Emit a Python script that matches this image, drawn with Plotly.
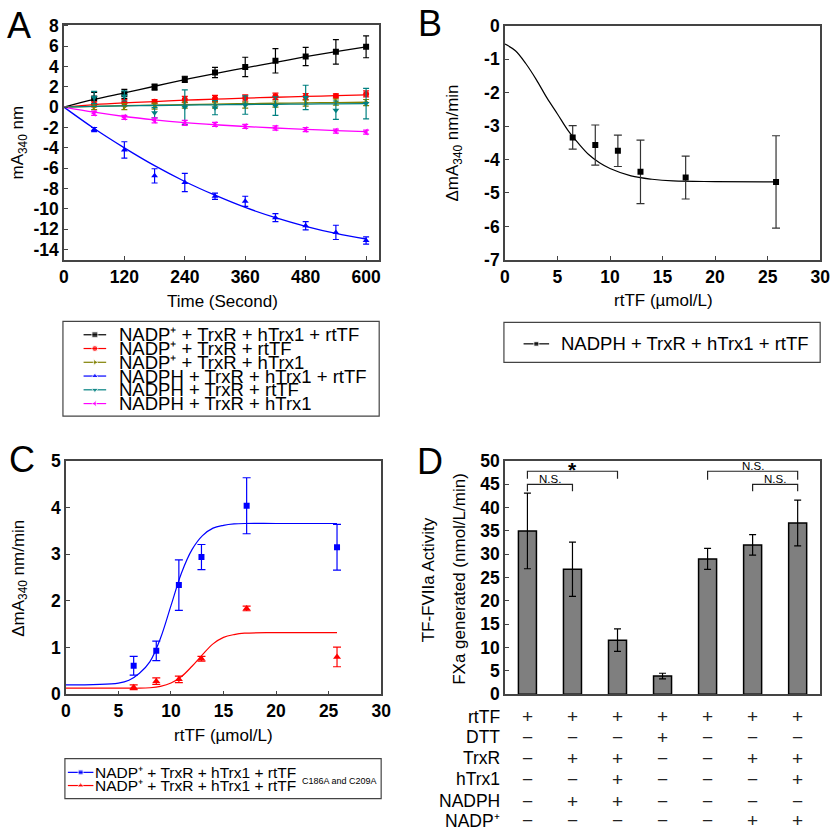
import plotly.graph_objects as go

# -----------------------------
# Canvas helpers
# -----------------------------
W, H = 840, 838
FONT = "Arial, Liberation Sans, sans-serif"


def px(x):
    return x / W


def py(y):
    return 1 - y / H


# -----------------------------
# Panel A data: absorbance vs time
# -----------------------------
time_pts = [60, 120, 180, 240, 300, 360, 420, 480, 540, 600]
time_fit = [0, 60, 120, 180, 240, 300, 360, 420, 480, 540, 600]
a_xticks = [0, 120, 240, 360, 480, 600]
a_yticks = [-14, -12, -10, -8, -6, -4, -2, 0, 2, 4, 6, 8]

a_names = [
    "NADP⁺ + TrxR + hTrx1 + rtTF",
    "NADP⁺ + TrxR + rtTF",
    "NADP⁺ + TrxR + hTrx1",
    "NADPH + TrxR + hTrx1 + rtTF",
    "NADPH + TrxR + rtTF",
    "NADPH + TrxR + hTrx1",
]
a_colors = ["#000000", "#ff0000", "#808000", "#0000ff", "#008080", "#ff00ff"]
a_symbols = ["square", "circle", "triangle-right", "triangle-up", "triangle-down", "triangle-left"]

a_black = [0.85, 1.3, 1.97, 2.73, 3.4, 3.95, 4.55, 4.97, 5.43, 5.92]
a_black_err = [0.6, 0.45, 0.3, 0.3, 0.5, 0.95, 1.2, 0.9, 1.2, 1.07]
a_red = [0.27, 0.43, 0.53, 0.75, 0.85, 0.9, 1.07, 1.04, 1.1, 1.3]
a_red_err = [0.25, 0.3, 0.2, 0.3, 0.3, 0.3, 0.3, 0.3, 0.2, 0.3]
a_olive = [0.05, 0.05, 0.1, 0.2, 0.2, 0.2, 0.3, 0.4, 0.5, 0.45]
a_olive_err = [0.3, 0.3, 0.3, 0.3, 0.3, 0.3, 0.3, 0.3, 0.3, 0.3]
a_blue = [-2.2, -4.2, -6.75, -7.4, -8.75, -9.25, -10.85, -11.65, -12.3, -13.1]
a_blue_err = [0.2, 0.8, 0.7, 0.9, 0.3, 0.5, 0.4, 0.4, 0.7, 0.35]
a_teal = [0.95, 1.1, -0.55, 0.0, -0.05, 0.2, 0.1, 0.95, -0.3, 0.35]
a_teal_err = [0.6, 0.5, 0.5, 1.7, 0.7, 0.9, 0.9, 1.2, 0.9, 1.5]
a_magenta = [-0.6, -1.0, -1.3, -1.55, -1.7, -1.9, -2.05, -2.2, -2.35, -2.45]
a_magenta_err = [0.2, 0.2, 0.25, 0.25, 0.2, 0.2, 0.2, 0.2, 0.2, 0.2]

# fitted curves
a_black_fit = [0.0, 0.75, 1.4, 2.05, 2.7, 3.3, 3.85, 4.4, 4.95, 5.45, 5.92]
a_red_fit = [0.0, 0.25, 0.42, 0.55, 0.68, 0.78, 0.88, 0.97, 1.05, 1.12, 1.2]
a_olive_fit = [0.0, 0.08, 0.14, 0.2, 0.25, 0.3, 0.34, 0.38, 0.42, 0.45, 0.48]
a_blue_fit = [0.0, -2.1, -4.0, -5.75, -7.3, -8.65, -9.85, -10.85, -11.7, -12.4, -12.95]
a_teal_fit = [0.0, 0.07, 0.12, 0.16, 0.2, 0.23, 0.26, 0.28, 0.3, 0.32, 0.34]
a_magenta_fit = [0.0, -0.5, -0.92, -1.25, -1.52, -1.73, -1.9, -2.05, -2.18, -2.3, -2.4]

a_values = [a_black, a_red, a_olive, a_blue, a_teal, a_magenta]
a_errors = [a_black_err, a_red_err, a_olive_err, a_blue_err, a_teal_err, a_magenta_err]
a_fits = [a_black_fit, a_red_fit, a_olive_fit, a_blue_fit, a_teal_fit, a_magenta_fit]

# -----------------------------
# Panel B / C data: rate vs rtTF
# -----------------------------
rttf = [6.45, 8.6, 10.75, 12.9, 17.2, 25.8]
rttf_ticks = [0, 5, 10, 15, 20, 25, 30]

b_yticks = [-7, -6, -5, -4, -3, -2, -1, 0]
b_rate = [-3.34, -3.57, -3.74, -4.37, -4.54, -4.67]
b_err = [0.35, 0.6, 0.47, 0.95, 0.64, 1.38]
b_fit_x = [0, 1, 2, 3, 4, 5, 6, 7, 8, 9, 10, 12, 14, 16, 20, 25.8]
b_fit_y = [-0.55, -0.75, -1.14, -1.62, -2.16, -2.64, -3.13, -3.52, -3.86, -4.1,
           -4.27, -4.49, -4.59, -4.64, -4.66, -4.67]

c_yticks = [0, 1, 2, 3, 4, 5]
c_wt = [0.61, 0.93, 2.34, 2.94, 4.04, 3.15]
c_wt_err = [0.2, 0.21, 0.54, 0.27, 0.6, 0.49]
c_mut = [0.15, 0.28, 0.32, 0.76, 1.84, 0.8]
c_mut_err = [0.05, 0.07, 0.07, 0.05, 0.05, 0.21]
c_fit_x = [0, 5, 6, 7, 8, 9, 10, 11, 12, 13, 14, 15, 16, 17, 20, 25.8]
c_wt_fit = [0.2, 0.24, 0.3, 0.45, 0.7, 1.2, 1.9, 2.6, 3.1, 3.4, 3.56, 3.62, 3.65, 3.66, 3.66, 3.66]
c_mut_fit = [0.13, 0.13, 0.13, 0.13, 0.14, 0.17, 0.24, 0.38, 0.6, 0.85, 1.08, 1.22, 1.28, 1.31, 1.32, 1.32]

# -----------------------------
# Panel D data: TF-FVIIa activity
# -----------------------------
d_groups = [0, 1, 2, 3, 4, 5, 6]
d_yticks = [0, 5, 10, 15, 20, 25, 30, 35, 40, 45, 50]
d_activity = [35.0, 26.8, 11.6, 3.9, 29.0, 32.0, 36.7]
d_err = [8.1, 5.8, 2.4, 0.6, 2.25, 2.2, 4.9]
d_rows = ["rtTF", "DTT", "TrxR", "hTrx1", "NADPH", "NADP⁺"]
d_table = [
    "+++++++",
    "---+---",
    "-++--++",
    "--+---+",
    "-++----",
    "-----++",
]
# (left group, right group, bracket top, tick bottom, label)
d_brackets = [
    (0, 2, 47.8, 46.2, "*"),
    (0, 1, 45.0, 43.5, "N.S."),
    (4, 6, 47.8, 46.0, "N.S."),
    (5, 6, 45.0, 43.5, "N.S."),
]

# -----------------------------
# Build figure
# -----------------------------
fig = go.Figure()

for name, col, sym, vals, errs, fit in zip(a_names, a_colors, a_symbols, a_values, a_errors, a_fits):
    fig.add_trace(go.Scatter(x=time_fit, y=fit, mode="lines", line=dict(color=col, width=1.3, shape="spline"),
                             xaxis="x", yaxis="y", hoverinfo="skip"))
    fig.add_trace(go.Scatter(x=time_pts, y=vals, mode="markers", name=name,
                             marker=dict(symbol=sym, color=col, size=6),
                             error_y=dict(type="data", array=errs, color=col, thickness=1.2, width=3),
                             xaxis="x", yaxis="y"))

fig.add_trace(go.Scatter(x=b_fit_x, y=b_fit_y, mode="lines", line=dict(color="black", width=1.2, shape="spline"),
                         xaxis="x2", yaxis="y2", hoverinfo="skip"))
fig.add_trace(go.Scatter(x=rttf, y=b_rate, mode="markers", marker=dict(symbol="square", color="black", size=6),
                         error_y=dict(type="data", array=b_err, color="#333", thickness=1.2, width=4),
                         xaxis="x2", yaxis="y2"))

fig.add_trace(go.Scatter(x=c_fit_x, y=c_wt_fit, mode="lines", line=dict(color="#0000ff", width=1.2, shape="spline"),
                         xaxis="x3", yaxis="y3", hoverinfo="skip"))
fig.add_trace(go.Scatter(x=c_fit_x, y=c_mut_fit, mode="lines", line=dict(color="#ff0000", width=1.2, shape="spline"),
                         xaxis="x3", yaxis="y3", hoverinfo="skip"))
fig.add_trace(go.Scatter(x=rttf, y=c_wt, mode="markers", marker=dict(symbol="square", color="#0000ff", size=6),
                         error_y=dict(type="data", array=c_wt_err, color="#0000ff", thickness=1.2, width=4),
                         xaxis="x3", yaxis="y3"))
fig.add_trace(go.Scatter(x=rttf, y=c_mut, mode="markers", marker=dict(symbol="triangle-up", color="#ff0000", size=7),
                         error_y=dict(type="data", array=c_mut_err, color="#ff0000", thickness=1.2, width=4),
                         xaxis="x3", yaxis="y3"))

fig.add_trace(go.Bar(x=d_groups, y=d_activity, width=0.4,
                     marker=dict(color="#7f7f7f", line=dict(color="black", width=1.5)),
                     error_y=dict(type="data", array=d_err, color="black", thickness=1.2, width=3.5),
                     xaxis="x4", yaxis="y4"))


# -----------------------------
# Axes
# -----------------------------
def axis(tick_list=None, **kw):
    base = dict(showline=True, linecolor="#444", linewidth=1.5, mirror=True, ticks="inside",
                ticklen=4, tickcolor="#444", showgrid=False, zeroline=False,
                tickfont=dict(family="Liberation Sans, Arial, sans-serif", size=17.5, color="black",
                              weight="bold"))
    if tick_list is not None:
        base.update(tickmode="array", tickvals=tick_list, ticktext=[f"<b>{t}</b>" for t in tick_list])
    base.update(kw)
    return base


fig.update_layout(
    width=W, height=H, margin=dict(l=0, r=0, t=0, b=0),
    paper_bgcolor="white", plot_bgcolor="rgba(0,0,0,0)", showlegend=False,
    font=dict(family=FONT, color="black"),
    xaxis=axis(a_xticks, domain=[px(60), px(381)], range=[0, 626], anchor="y"),
    yaxis=axis(a_yticks, domain=[py(256), py(15)], range=[-15, 8.1], anchor="x"),
    xaxis2=axis(rttf_ticks, domain=[px(509), px(830)], range=[0, 30], anchor="y2"),
    yaxis2=axis(b_yticks, domain=[py(256), py(16)], range=[-7, 0], anchor="x2"),
    xaxis3=axis(rttf_ticks, domain=[px(62), px(383)], range=[0, 30], anchor="y3"),
    yaxis3=axis(c_yticks, domain=[py(701), py(462)], range=[0, 5], anchor="x3"),
    xaxis4=axis(None, domain=[px(509), px(830)], range=[-0.5, 6.5], showticklabels=False, ticks="", anchor="y4"),
    yaxis4=axis(d_yticks, domain=[py(701), py(462)], range=[0, 50], anchor="x4"),
    xaxis5=dict(domain=[0, 1], range=[0, W], visible=False, anchor="y5", fixedrange=True),
    yaxis5=dict(domain=[0, 1], range=[H, 0], visible=False, anchor="x5", fixedrange=True),
)

ann = []
shapes = []


def text(x, y, s, size=17, angle=0, xanchor="center", yanchor="middle"):
    ann.append(dict(x=px(x), y=py(y), xref="paper", yref="paper", text=s, showarrow=False,
                    textangle=angle, xanchor=xanchor, yanchor=yanchor,
                    font=dict(family=FONT, size=size, color="black")))


# panel letters
text(14, 16, "A", size=36)
text(433, 14, "B", size=36)
text(17, 461, "C", size=36)
text(433, 463, "D", size=36)

# axis titles
text(14, 136, "mA<sub>340</sub> nm", angle=-90)
text(221, 299, "Time (Second)")
text(457, 136, "ΔmA<sub>340</sub> nm/min", angle=-90)
text(670, 298, "rtTF (µmol/L)")
text(15, 582, "ΔmA<sub>340</sub> nm/min", angle=-90)
text(222, 743, "rtTF (µmol/L)")
text(431, 584, "TF-FVIIa Activity", angle=-90)
text(462, 583, "FXa generated (nmol/L/min)", angle=-90)


# -----------------------------
# Legends (drawn by hand, the original has tight rows)
# -----------------------------
def legend_item(x0, x1, y, color, symbol, size=6):
    fig.add_trace(go.Scatter(x=[x0, (x0 + x1) / 2, x1], y=[y, y, y], mode="lines+markers",
                             line=dict(color=color, width=1.2),
                             marker=dict(symbol=symbol, color=color, size=[0, size, 0]),
                             xaxis="x5", yaxis="y5", hoverinfo="skip"))


shapes.append(dict(type="rect", xref="paper", yref="paper", x0=px(59), x1=px(381), y0=py(319), y1=py(416),
                   line=dict(color="#444", width=1.2)))
for i, (name, col, sym) in enumerate(zip(a_names, a_colors, a_symbols)):
    yy = 332.7 + 14.1 * i
    legend_item(80, 103, yy, col, sym)
    text(114, yy, name, size=18.5, xanchor="left")

shapes.append(dict(type="rect", xref="paper", yref="paper", x0=px(508), x1=px(830), y0=py(320), y1=py(361),
                   line=dict(color="#444", width=1.2)))
legend_item(528, 554, 342, "black", "square", 5)
text(564, 342, "NADPH + TrxR + hTrx1 + rtTF", size=18.5, xanchor="left")

shapes.append(dict(type="rect", xref="paper", yref="paper", x0=px(61), x1=px(383), y0=py(767), y1=py(808),
                   line=dict(color="#444", width=1.2)))
legend_item(64, 90, 781, "#0000ff", "square", 5)
legend_item(64, 90, 794.5, "#ff0000", "triangle-up", 6)
text(90, 781, "NADP⁺ + TrxR + hTrx1 + rtTF", size=15.5, xanchor="left")
text(90, 794.5, "NADP⁺ + TrxR + hTrx1 + rtTF", size=15.5, xanchor="left")
text(300, 790, "C186A and C209A", size=9, xanchor="left")

# -----------------------------
# Panel D: significance brackets and treatment table
# -----------------------------
for left, right, top, bottom, label in d_brackets:
    shapes.append(dict(type="path", xref="x4", yref="y4",
                       path=f"M {left},{bottom} L {left},{top} L {right},{top} L {right},{bottom}",
                       line=dict(color="#222", width=1.2)))
    is_star = label == "*"
    ann.append(dict(x=(left + right) / 2, y=top, xref="x4", yref="y4", text=label, showarrow=False,
                    xanchor="center", yanchor="bottom", yshift=-12 if is_star else -3,
                    font=dict(family=FONT, size=21 if is_star else 11.5, color="black",
                              weight="bold" if is_star else "normal")))

row_y = [724, 745, 766.7, 788.3, 810.7, 830.5]
for label, marks, yy in zip(d_rows, d_table, row_y):
    text(506, yy, label, size=17.5, xanchor="right")
    for g, m in zip(d_groups, marks):
        ann.append(dict(x=g, y=py(yy), xref="x4", yref="paper", text="+" if m == "+" else "−",
                        showarrow=False, xanchor="center", yanchor="middle",
                        font=dict(family=FONT, size=19, color="#222")))

fig.update_layout(annotations=ann, shapes=shapes)

# page body has a default margin; drop it so the figure sits at the window corner
fig.write_html("out.html", config={"displayModeBar": False},
               post_script="document.body.style.margin='0';")
